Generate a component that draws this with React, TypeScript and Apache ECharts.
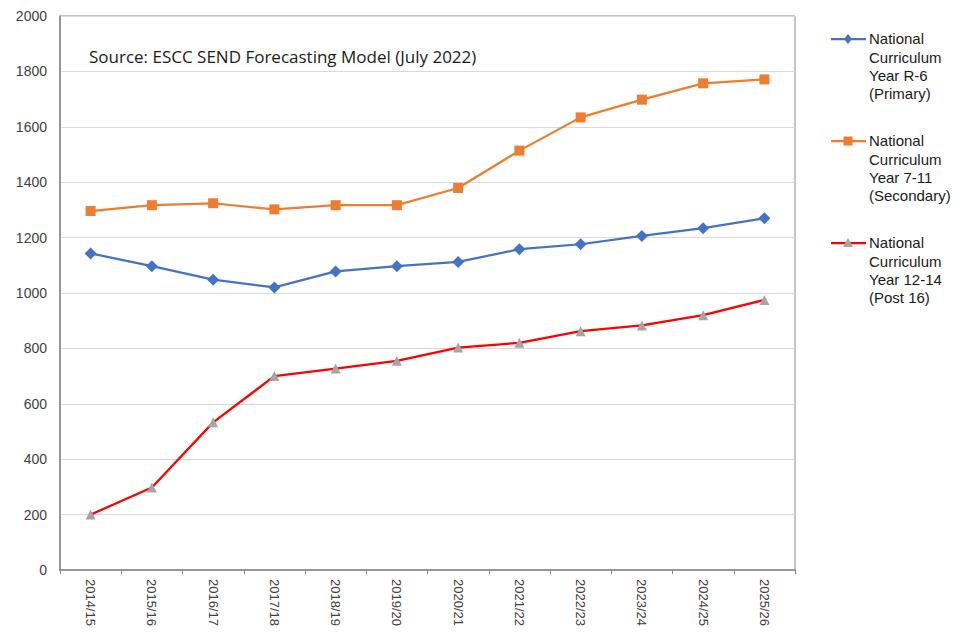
import React, { useEffect, useRef } from "react";
import * as echarts from "echarts";

const categories = [
  "2014/15", "2015/16", "2016/17", "2017/18", "2018/19", "2019/20",
  "2020/21", "2021/22", "2022/23", "2023/24", "2024/25", "2025/26",
];
const primary = [1143, 1097, 1048, 1020, 1078, 1097, 1112, 1158, 1176, 1206, 1234, 1270];
const secondary = [1296, 1317, 1324, 1302, 1317, 1317, 1379, 1514, 1634, 1698, 1757, 1771];
const post16 = [200, 298, 533, 700, 727, 755, 803, 820, 862, 883, 920, 975];
const seriesNames = [
  "National\nCurriculum\nYear R-6\n(Primary)",
  "National\nCurriculum\nYear 7-11\n(Secondary)",
  "National\nCurriculum\nYear 12-14\n(Post 16)",
];
const sourceNote = "Source: ESCC SEND Forecasting Model (July 2022)";

const BLUE = "#4472c4";
const ORANGE = "#ed7d31";
const RED = "#ff0000";
const GREY = "#a5a5a5";

export default function App() {
  const ref = useRef<HTMLDivElement>(null);
  useEffect(() => {
    if (!ref.current) return;
    const chart = echarts.init(ref.current, undefined, { renderer: "svg" });
    const font = "'Liberation Sans', Arial, sans-serif";

    const legendItem = (i: number, lineColor: string, marker: any) => {
      const y0 = 39 + 102 * i;
      return {
        type: "group",
        children: [
          { type: "line", shape: { x1: 831, y1: y0, x2: 866, y2: y0 }, style: { stroke: lineColor, lineWidth: 2.25 } },
          marker(848, y0),
          {
            type: "text",
            x: 869,
            y: y0 - 9.5,
            style: {
              text: seriesNames[i],
              font: `15px ${font}`,
              lineHeight: 18.4,
              fill: "#1a1a1a",
              verticalAlign: "top",
            },
          },
        ],
      };
    };

    chart.setOption({
      animation: false,
      backgroundColor: "#ffffff",
      grid: {
        left: 60, top: 16, right: 166, bottom: 65,
        show: true, borderColor: "#868686", borderWidth: 1,
      },
      xAxis: {
        type: "category",
        data: categories,
        boundaryGap: true,
        axisLine: { lineStyle: { color: "#868686", width: 1.5 } },
        axisTick: { show: true, length: 4, lineStyle: { color: "#868686" } },
        axisLabel: { rotate: -90, margin: 9, color: "#404040", fontSize: 13, fontFamily: font },
      },
      yAxis: {
        type: "value",
        min: 0, max: 2000, interval: 200,
        axisLine: { show: true, lineStyle: { color: "#868686", width: 1.5 } },
        axisTick: { show: false },
        splitLine: { lineStyle: { color: "#d9d9d9", width: 1 } },
        axisLabel: {
          margin: 13, color: "#404040", fontSize: 14, fontFamily: font,
          formatter: (v: number) => String(v),
        },
      },
      series: [
        {
          name: seriesNames[0], type: "line", data: primary,
          symbol: "diamond", symbolSize: 12,
          lineStyle: { color: BLUE, width: 2.25 }, itemStyle: { color: BLUE },
        },
        {
          name: seriesNames[1], type: "line", data: secondary,
          symbol: "rect", symbolSize: 10,
          lineStyle: { color: ORANGE, width: 2.25 }, itemStyle: { color: ORANGE },
        },
        {
          name: seriesNames[2], type: "line", data: post16,
          symbol: "triangle", symbolSize: 10,
          lineStyle: { color: RED, width: 2.25 }, itemStyle: { color: GREY },
        },
      ],
      graphic: [
        {
          type: "text", x: 89, y: 56,
          style: { text: sourceNote, font: `17px 'Open Sans', ${font}`, fill: "#1a1a1a", verticalAlign: "middle" },
        },
        legendItem(0, BLUE, (x: number, y: number) => ({
          type: "polygon", shape: { points: [[x, y - 5], [x + 4, y], [x, y + 5], [x - 4, y]] }, style: { fill: BLUE },
        })),
        legendItem(1, ORANGE, (x: number, y: number) => ({
          type: "rect", shape: { x: x - 4.5, y: y - 4.5, width: 9, height: 9 }, style: { fill: ORANGE },
        })),
        legendItem(2, RED, (x: number, y: number) => ({
          type: "polygon", shape: { points: [[x, y - 5], [x + 5, y + 4], [x - 5, y + 4]] }, style: { fill: GREY },
        })),
      ],
    });
    return () => chart.dispose();
  }, []);
  return (
    <div
      ref={ref}
      style={{ position: "fixed", left: 0, top: 0, width: 961, height: 635, background: "#fff" }}
    />
  );
}
